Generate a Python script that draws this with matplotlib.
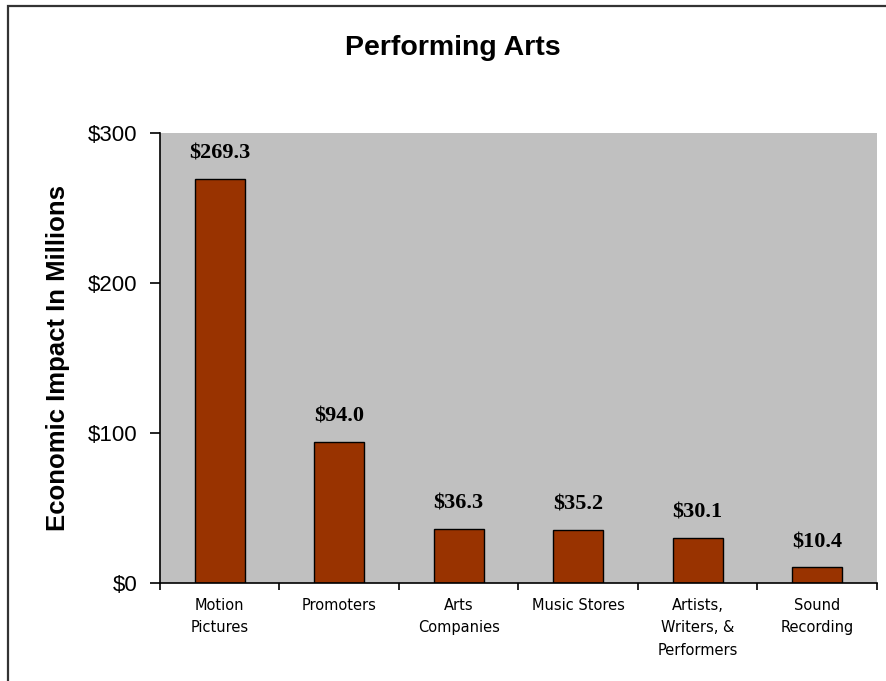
import matplotlib
matplotlib.use('Agg')
import matplotlib.pyplot as plt
from matplotlib.patches import Rectangle
import numpy as np

categories = ['Motion\nPictures', 'Promoters', 'Arts\nCompanies', 'Music Stores',
              'Artists,\nWriters, &\nPerformers', 'Sound\nRecording']
values = [269.3, 94.0, 36.3, 35.2, 30.1, 10.4]
yticks = [0, 100, 200, 300]

fig = plt.figure(figsize=(8.87, 6.81), dpi=100)
fig.patch.set_facecolor('white')

# outer chart frame, running off the right and bottom edges
frame = Rectangle((8/887, -0.05), 1.0, 1 - 6/681 + 0.05, transform=fig.transFigure,
                  fill=False, edgecolor='#333333', linewidth=1.6, clip_on=False)
fig.patches.append(frame)

ax = fig.add_axes([160/887, 1 - 583/681, 717/887, 450/681])
ax.set_facecolor('#c0c0c0')

x = np.arange(len(values))
bars = ax.bar(x, values, width=0.42, color='#993300', edgecolor='black', linewidth=1.0)

for b, v in zip(bars, values):
    ax.annotate('$%.1f' % v, (b.get_x() + b.get_width()/2, v), xytext=(0, 11),
                textcoords='offset points', ha='center', va='bottom',
                fontsize=16, fontweight='bold', family='Liberation Serif')

ax.set_xlim(-0.5, len(values) - 0.5)
ax.set_ylim(0, 300)
ax.set_yticks(yticks)
ax.set_yticklabels(['$%d' % t for t in yticks], fontsize=16, family='Liberation Sans')
ax.set_xticks(x)
ax.set_xticklabels(categories, fontsize=10.5, family='DejaVu Sans', linespacing=1.6)
ax.tick_params(axis='x', length=0, pad=11)
# category separators on the x axis
ax.set_xticks(np.arange(len(values) + 1) - 0.5, minor=True)
ax.tick_params(axis='x', which='minor', length=5, width=1.2)
ax.tick_params(axis='y', length=7, width=1.2, pad=9)

for side in ['top', 'right']:
    ax.spines[side].set_visible(False)
ax.spines['left'].set_linewidth(1.2)
ax.spines['bottom'].set_linewidth(1.2)

ax.set_ylabel('Economic Impact In Millions', fontsize=18.5, fontweight='bold',
              family='Liberation Sans', labelpad=13)
fig.text(453/887, 1 - 48/681, 'Performing Arts', ha='center', va='center',
         fontsize=20.5, fontweight='bold', family='Liberation Sans')

fig.savefig('out.png', dpi=100)
